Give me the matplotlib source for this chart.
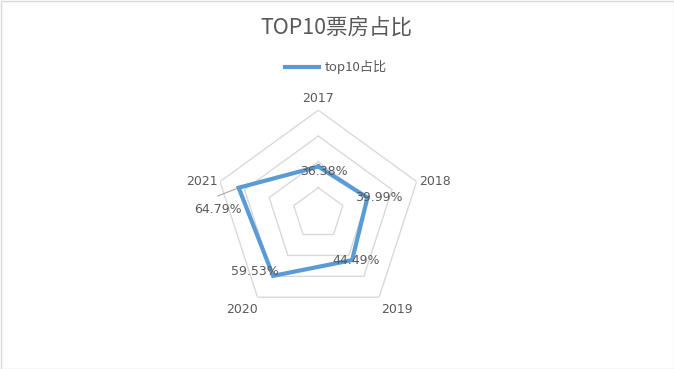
import numpy as np
import matplotlib
matplotlib.use("Agg")
import matplotlib.pyplot as plt
from matplotlib.patches import Rectangle

plt.rcParams['font.family'] = ['Noto Sans CJK SC', 'DejaVu Sans']

# ---- data ----
categories = ["2017", "2018", "2019", "2020", "2021"]
values = [0.3638, 0.3999, 0.4449, 0.5953, 0.6479]
labels = ["36.38%", "39.99%", "44.49%", "59.53%", "64.79%"]
series_name = "top10占比"
title = "TOP10票房占比"
ring_levels = [0.2, 0.4, 0.6, 0.8]

W, H = 674, 369
fig = plt.figure(figsize=(W / 100, H / 100), dpi=100)

# axes geometry (pixels)
cx, cy, R = 318.3, 213.6, 103.4
ax = fig.add_axes([(cx - R) / W, (H - cy - R) / H, 2 * R / W, 2 * R / H], projection='polar')
ax.set_theta_offset(np.pi / 2)
ax.set_theta_direction(-1)
ax.set_ylim(0, 0.8)
ax.grid(False)
ax.spines['polar'].set_visible(False)
ax.set_xticks([])
ax.set_yticks([])
ax.patch.set_alpha(0)

n = len(categories)
theta = np.arange(n) * 2 * np.pi / n
theta_c = np.append(theta, theta[0])

grid_col = "#D9D9D9"
for lv in ring_levels:
    ax.plot(theta_c, [lv] * (n + 1), color=grid_col, lw=1.0, zorder=1)

vals_c = values + [values[0]]
line, = ax.plot(theta_c, vals_c, color="#5B9BD5", lw=3.0, solid_joinstyle='miter', zorder=3,
                label=series_name)

txt_col = "#595959"
# category labels (offset from outer vertex, pixels, y up)
cat_offs = [(0, 12), (18.4, 0), (17.6, -12.7), (-15.8, -12.7), (-18.3, 0)]
for t, c, (dx, dy) in zip(theta, categories, cat_offs):
    ax.annotate(c, xy=(t, ring_levels[-1]), xytext=(dx, dy), textcoords='offset pixels',
                ha='center', va='center', fontsize=9, color=txt_col,
                family=['DejaVu Sans'], annotation_clip=False)

# data labels (offsets in pixels, y up)
offs = [(6, -5), (11, 0), (4, 0), (-18, 4), (-21, -21.6)]
for t, v, lab, (dx, dy) in zip(theta, values, labels, offs):
    ax.annotate(lab, xy=(t, v), xytext=(dx, dy), textcoords='offset pixels',
                ha='center', va='center', fontsize=9, color=txt_col,
                family=['DejaVu Sans'], zorder=5, annotation_clip=False)

# leader line for the 2021 label
ax.annotate("", xy=(theta[4], values[4]), xytext=(-21, -8.3), textcoords='offset pixels',
            arrowprops=dict(arrowstyle='-', color="#A6A6A6", lw=0.8, shrinkA=0, shrinkB=0),
            zorder=2, annotation_clip=False)

fig.text(336 / W, 1 - 27.5 / H, title, ha='center', va='center', fontsize=15.5, color=txt_col)

fig.legend(handles=[line], loc='center', bbox_to_anchor=(336 / W, 1 - 67.3 / H),
           frameon=False, fontsize=9.5, handlelength=2.6, handletextpad=0.4,
           labelcolor=txt_col)

fig.add_artist(Rectangle((0.5 / W, 0.5 / H), 1 - 1.0 / W, 1 - 1.0 / H, transform=fig.transFigure,
                         fill=False, edgecolor="#D9D9D9", lw=1.0))

fig.savefig("out.png", dpi=100, facecolor="white")
